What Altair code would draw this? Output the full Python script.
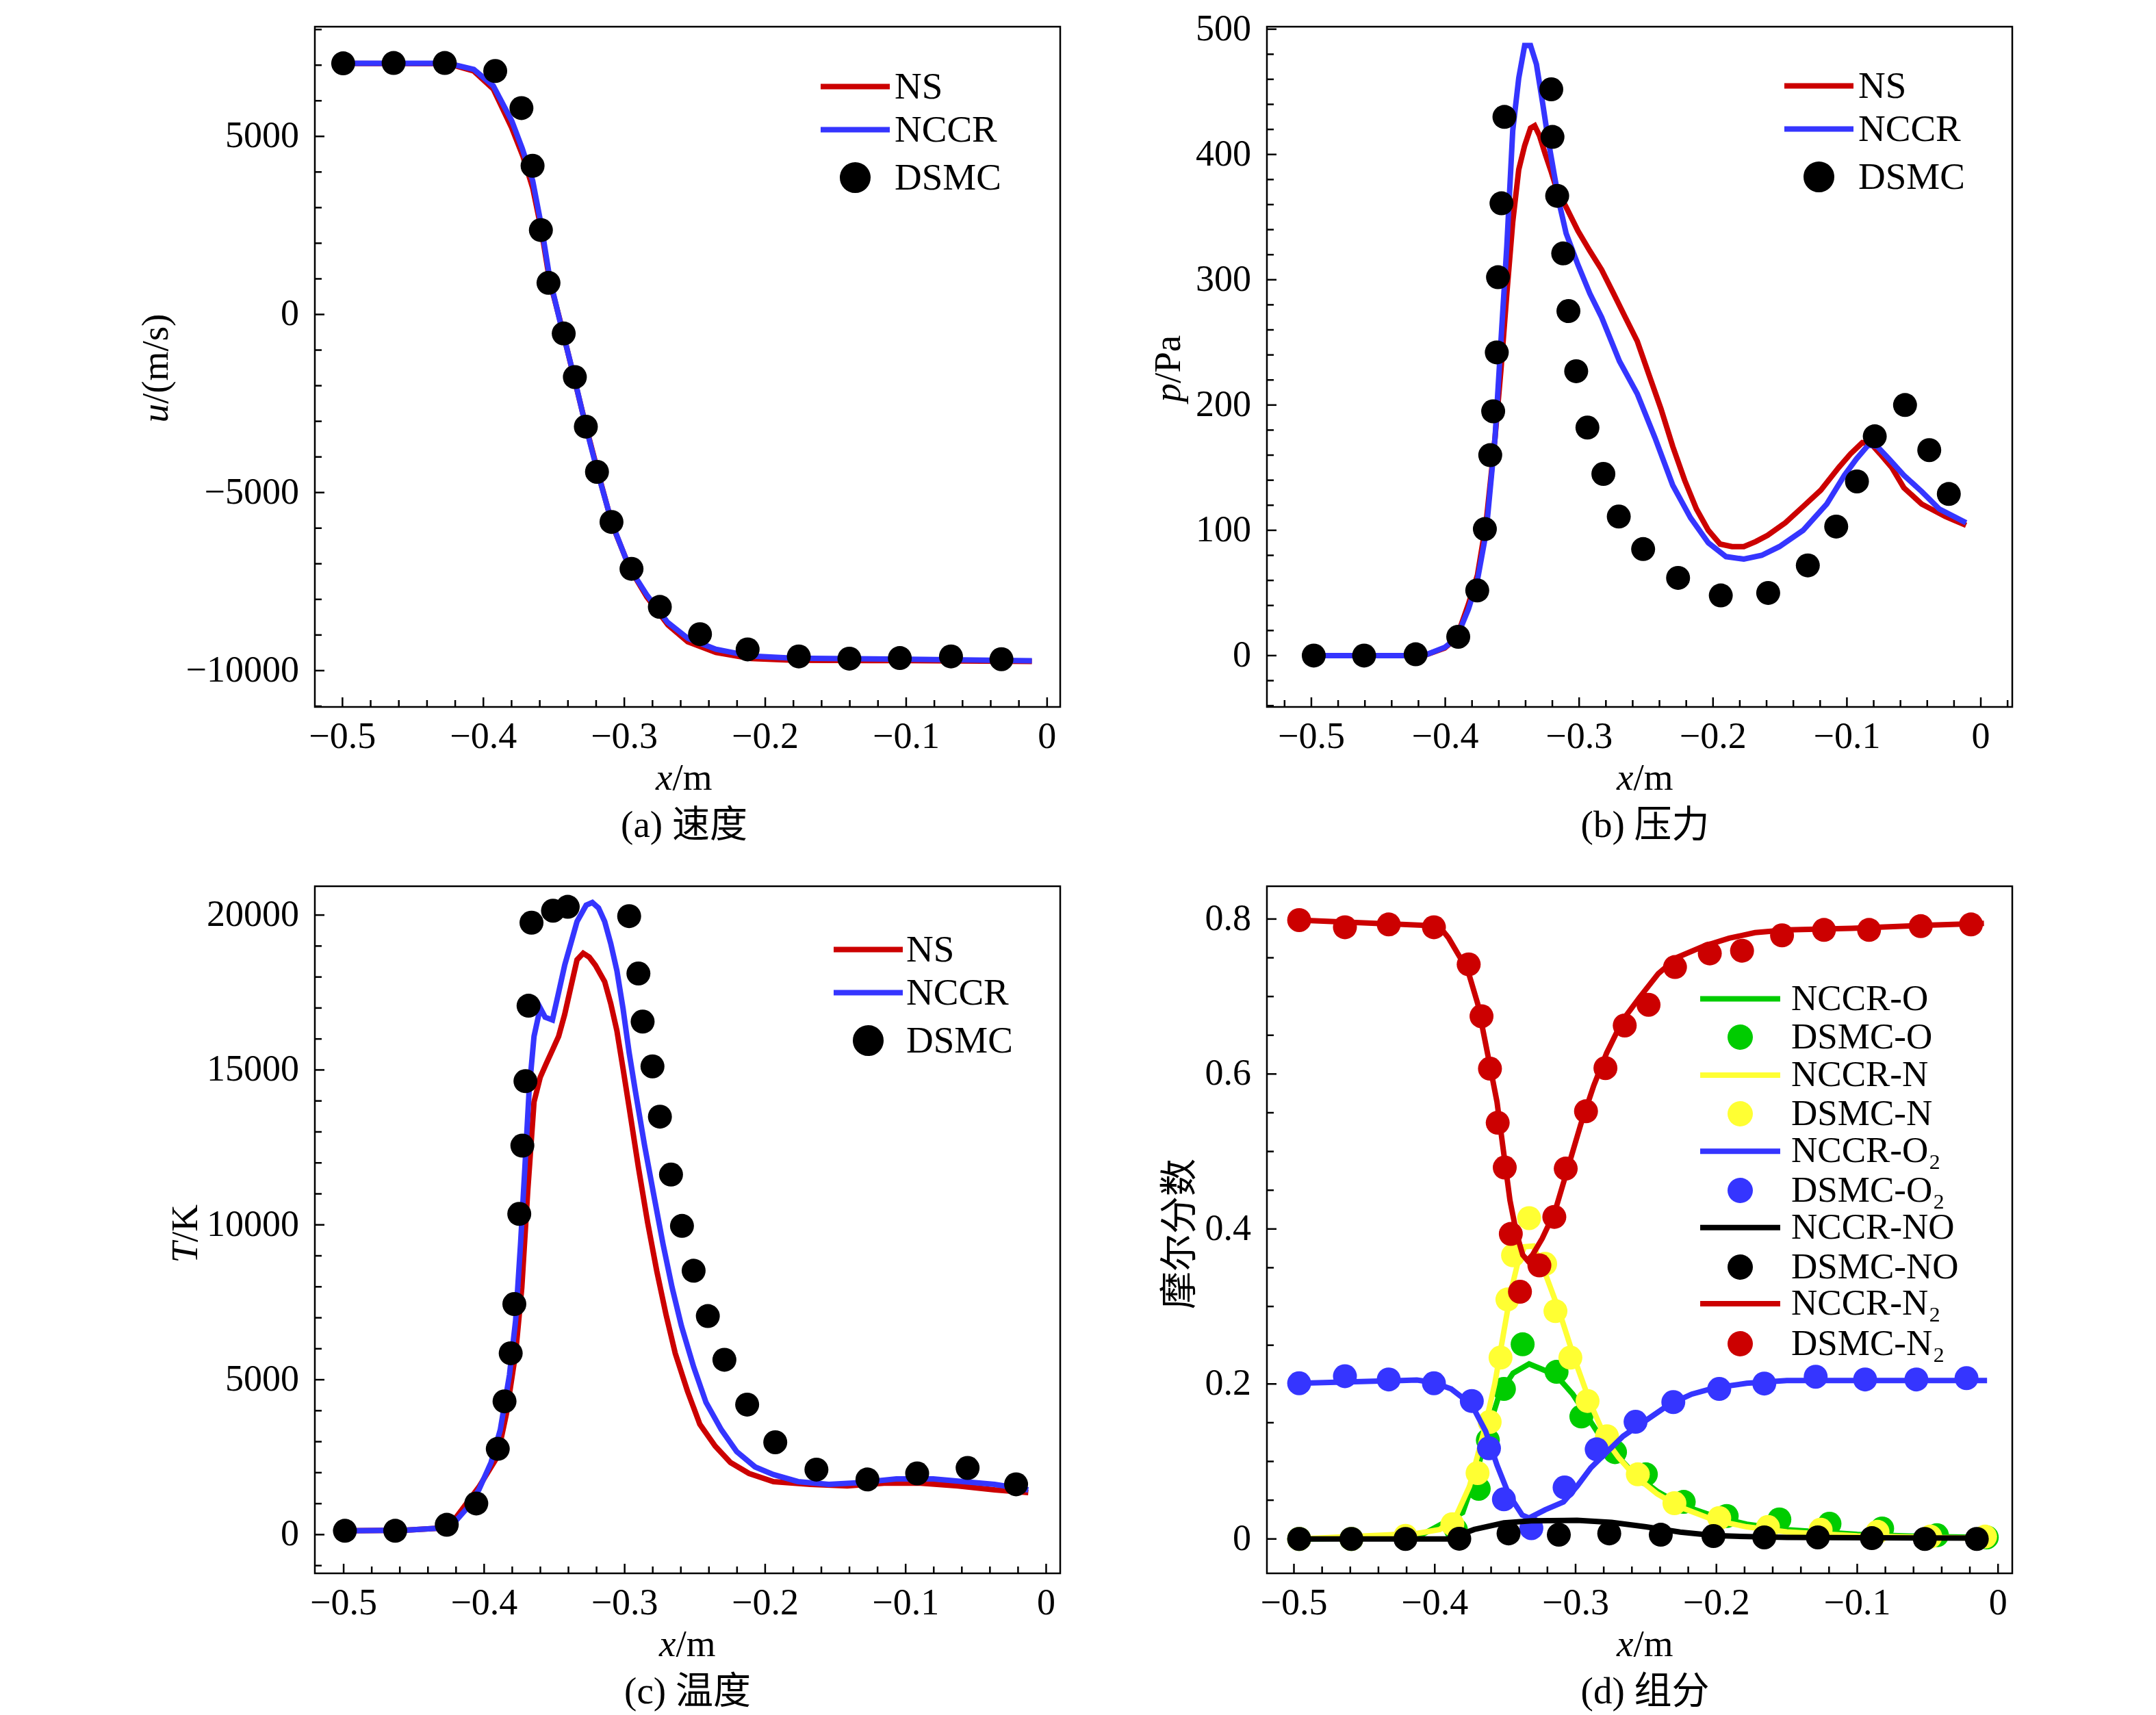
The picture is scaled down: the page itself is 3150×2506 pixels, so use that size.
import altair as alt
import pandas as pd

FONT = "Liberation Serif"
MIXED_FONT = "Liberation Serif, Noto Sans CJK SC"
RED, BLUE, GREEN, YELLOW, BLACK = "#cc0000", "#3535ff", "#00cc00", "#ffff33", "#000000"

W = 1089
H_TOP, H_BOTTOM = 994, 1004
LINE_W = 8
DOT_SIZE = 1225
LEG_SIZE = 1369
TICK_FS = 54
TEXT_FS = 55
LEG_D_FS = 53
MAJOR_LEN, MINOR_LEN = 14, 10
FRAME_W = 2.5

# ---------------- (a) velocity ----------------
a_dsmc_x = [-0.4995, -0.4637, -0.4274, -0.3916, -0.3730, -0.3651, -0.3592, -0.3538, -0.3430, -0.3351,
            -0.3273, -0.3194, -0.3091, -0.2949, -0.2748, -0.2463, -0.2125, -0.1762, -0.1403, -0.1045,
            -0.0682, -0.0324]
a_dsmc_u = [7050, 7060, 7060, 6835, 5795, 4174, 2370, 887, -535, -1758,
            -3150, -4419, -5826, -7141, -8211, -8976, -9404, -9602, -9664, -9648,
            -9602, -9679]
a_nccr_x = [-0.506, -0.425, -0.4068, -0.393, -0.3798, -0.3724, -0.365, -0.359, -0.3528, -0.3454,
            -0.3356, -0.3273, -0.3184, -0.3085, -0.2964, -0.2841, -0.2694, -0.2547, -0.235, -0.2105,
            -0.18, -0.1, -0.0108]
a_nccr_u = [7050, 7050, 6880, 6420, 5430, 4660, 3750, 2520, 990, -230,
            -1760, -3150, -4510, -5890, -7110, -7870, -8640, -9100, -9400, -9590,
            -9650, -9680, -9725]
a_ns_x = [-0.506, -0.425, -0.407, -0.393, -0.380, -0.372, -0.365, -0.359, -0.353, -0.345,
          -0.3356, -0.327, -0.318, -0.3085, -0.296, -0.284, -0.269, -0.255, -0.235, -0.21,
          -0.18, -0.1, -0.0108]
a_ns_u = [7050, 7040, 6840, 6330, 5250, 4450, 3550, 2400, 950, -260,
          -1790, -3170, -4530, -5910, -7140, -7930, -8720, -9190, -9490, -9660,
          -9710, -9720, -9740]

# ---------------- (b) pressure ----------------
b_dsmc_x = [-0.4982, -0.4606, -0.4221, -0.3903, -0.3761, -0.3704, -0.3664, -0.3642, -0.3615, -0.3606,
            -0.3580, -0.3558, -0.3208, -0.3199, -0.3164, -0.3119, -0.3080, -0.3022, -0.2938, -0.2819,
            -0.2704, -0.2522, -0.2261, -0.1942, -0.1588, -0.1292, -0.1080, -0.0925, -0.0792, -0.0566,
            -0.0385, -0.0239]
b_dsmc_p = [0, 0, 1, 15, 52, 101, 160, 195, 242, 302,
            361, 430, 452, 414, 367, 321, 275, 227, 182, 145,
            111, 85, 62, 48, 50, 72, 103, 139, 175, 200,
            164, 129]
b_nccr_x = [-0.5044, -0.416, -0.4004, -0.3916, -0.3827, -0.376, -0.3695, -0.3628, -0.3584, -0.354,
            -0.3496, -0.3451, -0.3407, -0.3363, -0.3319, -0.3274, -0.323, -0.3186, -0.3142, -0.3097,
            -0.3009, -0.292, -0.2832, -0.2699, -0.2566, -0.2434, -0.2301, -0.2168, -0.2035, -0.1903,
            -0.177, -0.1637, -0.1504, -0.1327, -0.115, -0.1018, -0.0929, -0.0841, -0.0774, -0.0686,
            -0.0575, -0.0442, -0.031, -0.011]
b_nccr_p = [0, 0, 6.5, 14, 37, 60, 98, 174, 251, 327,
            419, 461, 487, 487, 472, 442, 411, 384, 358, 337,
            312, 289, 270, 235, 209, 174, 136, 110, 90, 79,
            77, 80, 87, 100, 121, 144, 157, 168, 167, 157,
            144, 131, 117, 106]
b_ns_x = [-0.5044, -0.416, -0.4004, -0.3916, -0.3827, -0.376, -0.3695, -0.3628, -0.3584, -0.354,
          -0.3496, -0.3451, -0.3407, -0.3363, -0.3332, -0.3296, -0.3252, -0.3208, -0.3164, -0.3097,
          -0.3009, -0.292, -0.2832, -0.2743, -0.2655, -0.2566, -0.2478, -0.2389, -0.2301, -0.2212,
          -0.2124, -0.2035, -0.1947, -0.1858, -0.177, -0.1681, -0.1593, -0.146, -0.1327, -0.1195,
          -0.1062, -0.0973, -0.0885, -0.0819, -0.0752, -0.0664, -0.0575, -0.0442, -0.0265, -0.011]
b_ns_p = [0, 0, 6, 14, 41, 64, 106, 174, 228, 289,
          346, 388, 407, 421, 423, 415, 400, 386, 371, 358,
          339, 323, 308, 289, 270, 251, 224, 197, 167, 140,
          117, 100, 89, 87, 87, 91, 96, 106, 119, 132,
          150, 161, 170, 169, 161, 150, 134, 121, 111, 104]

# ---------------- (c) temperature ----------------
c_dsmc_x = [-0.4991, -0.4633, -0.4266, -0.4056, -0.3903, -0.3855, -0.3811, -0.3785, -0.3750, -0.3728,
            -0.3706, -0.3684, -0.3663, -0.351, -0.3405, -0.2968, -0.2902, -0.2872, -0.2802, -0.2749,
            -0.2670, -0.2592, -0.2509, -0.2408, -0.2290, -0.2128, -0.1928, -0.1635, -0.1272, -0.0918,
            -0.0559, -0.0214]
c_dsmc_T = [123, 123, 317, 1005, 2769, 4303, 5855, 7443, 10353, 12557,
            14639, 17073, 19753, 20141, 20265, 19965, 18113, 16561, 15115, 13492,
            11623, 9965, 8519, 7055, 5644, 4198, 2981, 2099, 1781, 1975,
            2152, 1623]
c_nccr_x = [-0.5066, -0.4563, -0.43, -0.4213, -0.4126, -0.4038, -0.3951, -0.3885, -0.382, -0.3776,
            -0.3741, -0.371, -0.368, -0.3645, -0.3601, -0.3566, -0.3514, -0.347, -0.3427, -0.3383,
            -0.3339, -0.3274, -0.323, -0.3186, -0.3142, -0.3099, -0.3055, -0.3011, -0.2968, -0.2924,
            -0.2858, -0.2793, -0.2727, -0.2662, -0.2596, -0.2509, -0.2421, -0.2312, -0.2203, -0.2072,
            -0.1941, -0.1766, -0.1547, -0.1329, -0.1066, -0.0804, -0.0586, -0.0367, -0.0127]
c_nccr_T = [123, 141, 212, 388, 829, 1446, 2328, 3386, 5150, 6914,
            9383, 11852, 14321, 16085, 17002, 16702, 16614, 17496, 18378, 19083,
            19789, 20318, 20406, 20230, 19789, 19083, 18201, 16967, 15556, 14321,
            12557, 10970, 9383, 7972, 6737, 5415, 4268, 3386, 2681, 2187,
            1940, 1711, 1623, 1676, 1799, 1799, 1711, 1623, 1446]
c_ns_x = [-0.5066, -0.4563, -0.43, -0.4213, -0.4038, -0.3907, -0.3841, -0.3776, -0.3732, -0.3689,
          -0.3645, -0.3601, -0.3558, -0.3514, -0.347, -0.3427, -0.3383, -0.3339, -0.3295, -0.3252,
          -0.3208, -0.3142, -0.3099, -0.3055, -0.3011, -0.2968, -0.2902, -0.2837, -0.2771, -0.2705,
          -0.264, -0.2552, -0.2465, -0.2356, -0.2247, -0.2115, -0.1941, -0.1678, -0.1416, -0.1154,
          -0.0892, -0.0629, -0.0367, -0.0127]
c_ns_T = [123, 141, 212, 476, 1534, 2504, 3915, 5855, 7972, 11146,
          13968, 14762, 15203, 15644, 16085, 16790, 17672, 18554, 18766, 18642,
          18378, 17849, 17143, 16261, 15027, 13792, 11852, 10088, 8501, 7090,
          5855, 4621, 3563, 2857, 2328, 1975, 1711, 1623, 1570, 1658,
          1658, 1570, 1446, 1358]

# ---------------- (d) species mole fractions ----------------
d_O_dsmc_x = [-0.4963, -0.4592, -0.4208, -0.385, -0.3688, -0.3623, -0.3509, -0.3376, -0.3135, -0.2959,
              -0.272, -0.2501, -0.2232, -0.1927, -0.1553, -0.1197, -0.0823, -0.0434, -0.008]
d_O_dsmc = [0, 0, 0.002, 0.012, 0.0647, 0.1275, 0.1936, 0.2512, 0.2156, 0.158,
            0.112, 0.0834, 0.0478, 0.0296, 0.0252, 0.0196, 0.0135, 0.0048, 0.002]
d_N_dsmc_x = [-0.4963, -0.4592, -0.4208, -0.3875, -0.3696, -0.361, -0.3533, -0.3484, -0.3444, -0.333,
              -0.3216, -0.3143, -0.3037, -0.2915, -0.2777, -0.2558, -0.2298, -0.198, -0.1634, -0.126,
              -0.0856, -0.0481, -0.0092]
d_N_dsmc = [0, 0, 0.004, 0.019, 0.085, 0.151, 0.234, 0.309, 0.366, 0.414,
            0.355, 0.294, 0.234, 0.178, 0.1325, 0.0834, 0.0461, 0.027, 0.0154, 0.0119,
            0.0092, 0.003, 0.003]
d_O2_dsmc_x = [-0.4963, -0.4638, -0.4327, -0.4006, -0.3737, -0.3615, -0.3509, -0.3314, -0.3078, -0.285,
               -0.2574, -0.2306, -0.198, -0.166, -0.1295, -0.0944, -0.058, -0.0224]
d_O2_dsmc = [0.2009, 0.21, 0.2058, 0.2009, 0.178, 0.117, 0.0512, 0.0139, 0.0664, 0.1156,
             0.1512, 0.1766, 0.1936, 0.2005, 0.2093, 0.2058, 0.2058, 0.2075]
d_NO_dsmc_x = [-0.4963, -0.4592, -0.4208, -0.3826, -0.3476, -0.3119, -0.2761, -0.2395, -0.2021, -0.166,
               -0.128, -0.0896, -0.052, -0.0151]
d_NO_dsmc = [0, 0, 0, 0.0003, 0.0071, 0.0054, 0.0071, 0.0054, 0.0037, 0.002,
             0.002, 0.001, 0, 0]
d_N2_dsmc_x = [-0.4963, -0.4638, -0.4327, -0.4006, -0.3759, -0.3668, -0.3608, -0.3553, -0.3503, -0.346,
               -0.3395, -0.3257, -0.3151, -0.307, -0.2926, -0.2788, -0.2651, -0.2482, -0.2294, -0.2047,
               -0.1818, -0.1534, -0.1236, -0.0916, -0.0549, -0.0192]
d_N2_dsmc = [0.7986, 0.7894, 0.793, 0.7894, 0.7415, 0.6745, 0.6069, 0.5371, 0.4793, 0.3936,
             0.319, 0.353, 0.4156, 0.4779, 0.5519, 0.6076, 0.6626, 0.6893, 0.738, 0.7556,
             0.7591, 0.7789, 0.7859, 0.7859, 0.7908, 0.793]

d_O_x = [-0.4963, -0.4127, -0.3802, -0.3704, -0.3623, -0.3541, -0.3444, -0.333, -0.3216, -0.3119,
         -0.3021, -0.2924, -0.2826, -0.2712, -0.2582, -0.242, -0.2257, -0.2013, -0.1785, -0.15,
         -0.1, -0.05, -0.0078]
d_O = [0, 0.002, 0.034, 0.085, 0.139, 0.187, 0.214, 0.2258, 0.2173, 0.2071,
       0.187, 0.16, 0.1325, 0.1088, 0.0834, 0.0614, 0.0444, 0.029, 0.019, 0.012,
       0.006, 0.003, 0.002]
d_N_x = [-0.4963, -0.4127, -0.3964, -0.385, -0.3753, -0.3655, -0.3574, -0.3509, -0.346, -0.3411,
         -0.3363, -0.33, -0.3216, -0.3119, -0.3005, -0.2891, -0.2777, -0.2696, -0.2582, -0.242,
         -0.2257, -0.2013, -0.1785, -0.15, -0.1, -0.05, -0.0078]
d_N = [0, 0.007, 0.0122, 0.029, 0.068, 0.136, 0.2, 0.268, 0.319, 0.356,
       0.377, 0.378, 0.3427, 0.2953, 0.2308, 0.1732, 0.1258, 0.1054, 0.0817, 0.058,
       0.041, 0.0241, 0.0156, 0.009, 0.004, 0.002, 0.001]
d_O2_x = [-0.4963, -0.4127, -0.4013, -0.3883, -0.3737, -0.3639, -0.3558, -0.3476, -0.3379, -0.333,
          -0.3216, -0.3086, -0.2989, -0.2891, -0.2777, -0.2663, -0.2501, -0.2338, -0.2176, -0.2013,
          -0.1785, -0.15, -0.1, -0.05, -0.0078]
d_O2 = [0.2009, 0.205, 0.202, 0.1936, 0.173, 0.139, 0.0953, 0.058, 0.0308, 0.027,
        0.0376, 0.0478, 0.0681, 0.0919, 0.1122, 0.1325, 0.1529, 0.1732, 0.1868, 0.195,
        0.2009, 0.2044, 0.2044, 0.2044, 0.2044]
d_NO_x = [-0.4963, -0.39, -0.372, -0.3509, -0.3314, -0.2989, -0.2745, -0.25, -0.2257, -0.2013,
          -0.1785, -0.15, -0.0078]
d_NO = [0, 0, 0.0122, 0.0207, 0.0234, 0.0241, 0.0214, 0.0156, 0.0088, 0.0044,
        0.003, 0.002, 0.001]
d_N2_x = [-0.4963, -0.397, -0.3901, -0.3832, -0.3764, -0.3695, -0.3626, -0.3558, -0.3512, -0.3466,
          -0.342, -0.3375, -0.3342, -0.3306, -0.3237, -0.3146, -0.3054, -0.2962, -0.2871, -0.2779,
          -0.2665, -0.255, -0.2413, -0.2276, -0.2093, -0.1909, -0.1726, -0.1497, -0.104, -0.0582,
          -0.01]
d_N2 = [0.7986, 0.791, 0.7753, 0.754, 0.733, 0.6907, 0.6273, 0.5639, 0.5004, 0.437,
        0.3947, 0.3665, 0.3595, 0.3665, 0.3877, 0.4229, 0.4793, 0.5357, 0.585, 0.6273,
        0.6696, 0.6978, 0.7295, 0.7507, 0.7648, 0.7753, 0.7824, 0.7859, 0.788, 0.7915,
        0.7944]

# ---------------- tick positions and tick labels ----------------
x_major = [-0.5, -0.4, -0.3, -0.2, -0.1, 0.0]
x_labels = ["\u22120.5", "\u22120.4", "\u22120.3", "\u22120.2", "\u22120.1", "0"]
x_minor_std = [round(-0.5 + 0.02 * i, 2) for i in range(26)]
x_minor_b = [round(-0.52 + 0.02 * i, 2) for i in range(28)]
a_y_major = [-10000, -5000, 0, 5000]
a_y_labels = ["\u221210000", "\u22125000", "0", "5000"]
a_y_minor = list(range(-11000, 8001, 1000))
b_y_major = [0, 100, 200, 300, 400, 500]
b_y_labels = ["0", "100", "200", "300", "400", "500"]
b_y_minor = list(range(-40, 501, 20))
c_y_major = [0, 5000, 10000, 15000, 20000]
c_y_labels = ["0", "5000", "10000", "15000", "20000"]
c_y_minor = list(range(-1000, 20001, 1000))
d_y_major = [0.0, 0.2, 0.4, 0.6, 0.8]
d_y_labels = ["0", "0.2", "0.4", "0.6", "0.8"]
d_y_minor = [round(0.05 * i, 2) for i in range(17)]


def sdf(x, y, name):
    return pd.DataFrame({"x": x, "y": y, "series": name})


def make_legend(names, cols, lx, ly, half, label_offset, row_pad, fs):
    col_expr = "'#000000'"
    for n, c in reversed(list(zip(names, cols))):
        col_expr = f"datum.value == '{n}' ? '{c}' : ({col_expr})"
    is_dot = "indexof(datum.value, 'DSMC') == 0"
    return alt.Legend(
        orient="none", legendX=lx, legendY=ly, title=None, padding=0,
        symbolType=alt.ExprRef(expr=f"{is_dot} ? 'circle' : 'M-{half},0L{half},0'"),
        symbolSize=LEG_SIZE,
        symbolFillColor=alt.ExprRef(expr=f"{is_dot} ? ({col_expr}) : 'transparent'"),
        symbolStrokeColor=alt.ExprRef(expr=f"{is_dot} ? 'transparent' : ({col_expr})"),
        symbolStrokeWidth=LINE_W, symbolOpacity=1, symbolOffset=0,
        labelFont=FONT, labelFontSize=fs, labelColor="black",
        labelOffset=label_offset, labelLimit=2000,
        rowPadding=row_pad,
    )


def text_layer(t, px, py, **kw):
    return alt.Chart(pd.DataFrame({"t": [t]})).mark_text(
        font=kw.pop("font", FONT), fontSize=kw.pop("fontSize", TEXT_FS), color="black", **kw
    ).encode(text="t:N", x=alt.value(px), y=alt.value(py))


def build_panel(p):
    H = p["h"]
    xs = alt.Scale(domain=p["xdom"], nice=False, zero=False)
    ys = alt.Scale(domain=p["ydom"], nice=False, zero=False)
    legend = make_legend(p["names"], p["cols"], *p["legend"])
    color = alt.Color("series:N", scale=alt.Scale(domain=p["names"], range=p["cols"]), legend=legend)
    if "dot_names" in p:
        # separate legend for the DSMC dots, interleaved with the line legend
        dot_legend = make_legend(p["dot_names"], p["dot_cols"], *p["dot_legend"])
        dot_enc = dict(fill=alt.Fill("series:N", scale=alt.Scale(domain=p["dot_names"], range=p["dot_cols"]),
                                     legend=dot_legend))
    else:
        dot_enc = dict(color=color)
    layers = []
    for kind, df in p["layers"]:
        base = alt.Chart(df)
        if kind == "line":
            m = base.mark_line(strokeWidth=LINE_W, clip=True)
            enc = dict(color=color)
        else:
            m = base.mark_circle(size=DOT_SIZE, opacity=1)
            enc = dot_enc
        layers.append(m.encode(
            x=alt.X("x:Q", scale=xs, axis=None),
            y=alt.Y("y:Q", scale=ys, axis=None),
            **enc,
        ))
    # inward ticks (major longer than minor)
    for vals, ln in [(p["xmaj"], MAJOR_LEN), ([v for v in p["xmin"] if v not in p["xmaj"]], MINOR_LEN)]:
        layers.append(alt.Chart(pd.DataFrame({"v": vals})).mark_rule(color="black", strokeWidth=FRAME_W).encode(
            x=alt.X("v:Q", scale=xs, axis=None), y=alt.value(H), y2=alt.value(H - ln)))
    for vals, ln in [(p["ymaj"], MAJOR_LEN), ([v for v in p["ymin"] if v not in p["ymaj"]], MINOR_LEN)]:
        layers.append(alt.Chart(pd.DataFrame({"v": vals})).mark_rule(color="black", strokeWidth=FRAME_W).encode(
            y=alt.Y("v:Q", scale=ys, axis=None), x=alt.value(0), x2=alt.value(ln)))
    # tick labels placed through the scales
    layers.append(alt.Chart(pd.DataFrame({"v": p["xmaj"], "lab": x_labels})).mark_text(
        font=FONT, fontSize=TICK_FS, color="black", align="center", baseline="middle").encode(
        x=alt.X("v:Q", scale=xs, axis=None), y=alt.value(H + 44), text="lab:N"))
    layers.append(alt.Chart(pd.DataFrame({"v": p["ymaj"], "lab": p["ylabs"]})).mark_text(
        font=FONT, fontSize=TICK_FS, color="black", align="right", baseline="middle").encode(
        y=alt.Y("v:Q", scale=ys, axis=None), x=alt.value(-23), text="lab:N"))
    # axis titles and caption
    cx = W / 2 + p["dx"]
    layers.append(text_layer("x", cx - 17, H + 121, fontStyle="italic", align="right", baseline="alphabetic"))
    layers.append(text_layer("/m", cx - 17, H + 121, align="left", baseline="alphabetic"))
    layers.append(text_layer(p["caption"], cx, H + 190, font=MIXED_FONT, align="center", baseline="alphabetic"))
    yx, ysplit = p["ypos"]
    ysplit = H / 2 + ysplit
    if p["ylet"]:
        layers.append(text_layer(p["ylet"], yx, ysplit, fontStyle="italic", angle=270, align="right", baseline="alphabetic"))
        layers.append(text_layer(p["yrest"], yx, ysplit, angle=270, align="left", baseline="alphabetic"))
    else:
        layers.append(text_layer(p["yrest"], yx, ysplit, font=MIXED_FONT, angle=270, align="center", baseline="alphabetic"))
    return alt.layer(*layers).properties(width=W, height=H)


names3 = ["NS", "NCCR", "DSMC"]
cols3 = [RED, BLUE, BLACK]

panel_a = build_panel(dict(
    h=H_TOP, xdom=[-0.5196, 0.0093], ydom=[-11020, 8080], names=names3, cols=cols3,
    legend=(762, 60, 2.73, 30, 7, TEXT_FS),
    layers=[("line", sdf(a_ns_x, a_ns_u, "NS")), ("line", sdf(a_nccr_x, a_nccr_u, "NCCR")),
            ("point", sdf(a_dsmc_x, a_dsmc_u, "DSMC"))],
    xmaj=x_major, xmin=x_minor_std, ymaj=a_y_major, ymin=a_y_minor, ylabs=a_y_labels,
    dx=-5, caption="(a) 速度", ylet="u", yrest="/(m/s)", ypos=(-215, 54),
))
panel_b = build_panel(dict(
    h=H_TOP, xdom=[-0.5332, 0.0235], ydom=[-41, 502], names=names3, cols=cols3,
    legend=(779, 59, 2.73, 30, 7, TEXT_FS),
    layers=[("line", sdf(b_ns_x, b_ns_p, "NS")), ("line", sdf(b_nccr_x, b_nccr_p, "NCCR")),
            ("point", sdf(b_dsmc_x, b_dsmc_p, "DSMC"))],
    xmaj=x_major, xmin=x_minor_b, ymaj=b_y_major, ymin=b_y_minor, ylabs=b_y_labels,
    dx=8, caption="(b) 压力", ylet="p", yrest="/Pa", ypos=(-127, 24),
))
panel_c = build_panel(dict(
    h=H_BOTTOM, xdom=[-0.5205, 0.0100], ydom=[-1250, 20930], names=names3, cols=cols3,
    legend=(781, 65, 2.73, 28, 7, TEXT_FS),
    layers=[("line", sdf(c_ns_x, c_ns_T, "NS")), ("line", sdf(c_nccr_x, c_nccr_T, "NCCR")),
            ("point", sdf(c_dsmc_x, c_dsmc_T, "DSMC"))],
    xmaj=x_major, xmin=x_minor_std, ymaj=c_y_major, ymin=c_y_minor, ylabs=c_y_labels,
    dx=0, caption="(c) 温度", ylet="T", yrest="/K", ypos=(-172, 18),
))

line_names_d = ["NCCR-O", "NCCR-N", "NCCR-O₂", "NCCR-NO", "NCCR-N₂"]
dot_names_d = ["DSMC-O", "DSMC-N", "DSMC-O₂", "DSMC-NO", "DSMC-N₂"]
cols_d = [GREEN, YELLOW, BLUE, BLACK, RED]
panel_d = build_panel(dict(
    h=H_BOTTOM, xdom=[-0.5192, 0.0101], ydom=[-0.0444, 0.8423],
    names=line_names_d, cols=cols_d, legend=(665, 138, 3.16, 48, 57.4, LEG_D_FS),
    dot_names=dot_names_d, dot_cols=cols_d, dot_legend=(665, 194, 3.16, 48, 43, LEG_D_FS),
    layers=[("line", sdf(d_O_x, d_O, "NCCR-O")), ("point", sdf(d_O_dsmc_x, d_O_dsmc, "DSMC-O")),
            ("line", sdf(d_N_x, d_N, "NCCR-N")), ("point", sdf(d_N_dsmc_x, d_N_dsmc, "DSMC-N")),
            ("line", sdf(d_O2_x, d_O2, "NCCR-O₂")), ("point", sdf(d_O2_dsmc_x, d_O2_dsmc, "DSMC-O₂")),
            ("line", sdf(d_NO_x, d_NO, "NCCR-NO")), ("point", sdf(d_NO_dsmc_x, d_NO_dsmc, "DSMC-NO")),
            ("line", sdf(d_N2_x, d_N2, "NCCR-N₂")), ("point", sdf(d_N2_dsmc_x, d_N2_dsmc, "DSMC-N₂"))],
    xmaj=x_major, xmin=x_minor_std, ymaj=d_y_major, ymin=d_y_minor, ylabs=d_y_labels,
    dx=8, caption="(d) 组分", ylet="", yrest="摩尔分数", ypos=(-110, 6),
))

chart = alt.concat(
    panel_a, panel_b, panel_c, panel_d,
    columns=2, spacing={"row": 262, "column": 302}, bounds="flush",
).properties(
    padding={"left": 191, "top": 6, "right": 5, "bottom": 0},
).configure(
    background="white",
).configure_view(
    stroke="black", strokeWidth=FRAME_W,
).resolve_scale(color="independent", fill="independent", x="independent", y="independent")

chart.save("out.html", embed_options={"renderer": "svg", "actions": False})
